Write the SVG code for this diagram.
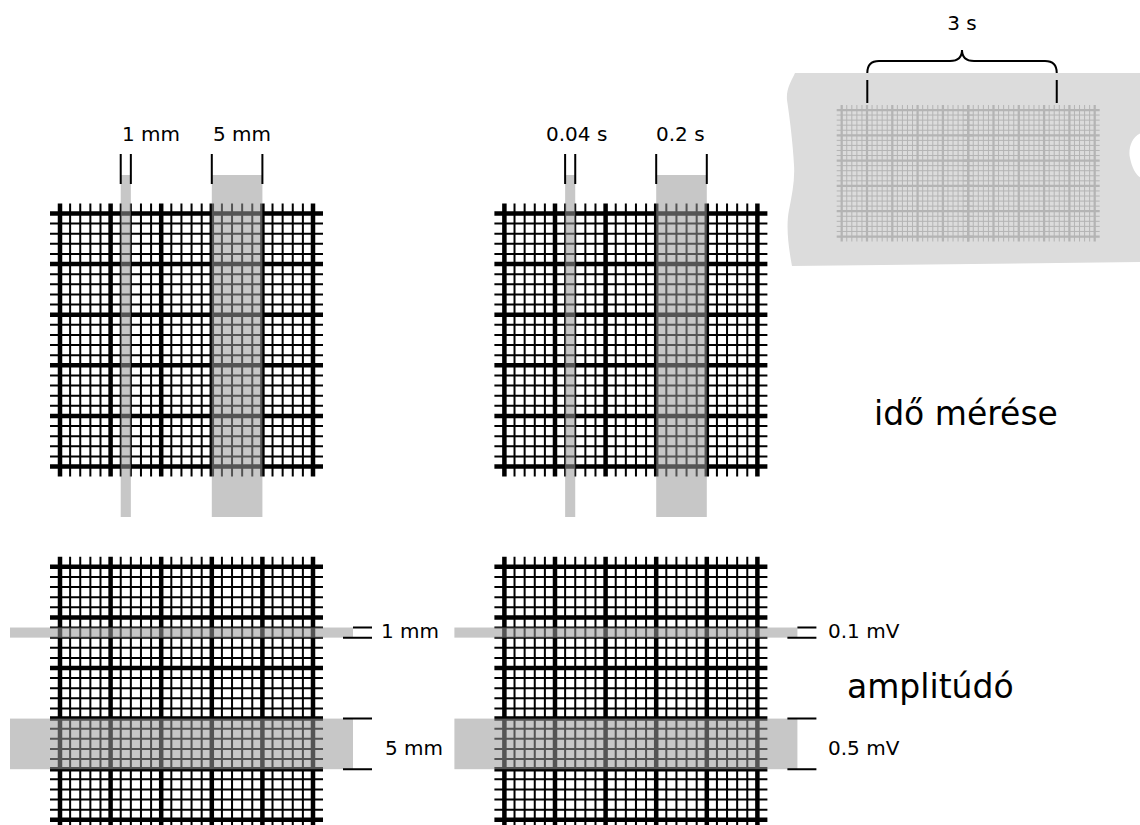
<svg xmlns="http://www.w3.org/2000/svg" xmlns:xlink="http://www.w3.org/1999/xlink" width="1140" height="825" viewBox="0 0 1140 825">
<style>
.thin{fill:none;stroke-width:2}
.thick{fill:none;stroke-width:4.5}
.band{fill:#999;fill-opacity:.55}
.tick{stroke:#000;stroke-width:2;fill:none}
.lbl{font-family:"DejaVu Sans",Verdana,sans-serif;font-size:20px;fill:#000}
.big{font-family:"DejaVu Sans",Verdana,sans-serif;font-size:33px;fill:#000}
</style>
<defs>
<g id="grid">
<path class="thin" d="M10.12-10V263M20.24-10V263M30.36-10V263M40.48-10V263M60.72-10V263M70.84-10V263M80.96-10V263M91.08-10V263M111.32-10V263M121.44-10V263M131.56-10V263M141.68-10V263M161.92-10V263M172.04-10V263M182.16-10V263M192.28-10V263M212.52-10V263M222.64-10V263M232.76-10V263M242.88-10V263M-10 10.12H263M-10 20.24H263M-10 30.36H263M-10 40.48H263M-10 60.72H263M-10 70.84H263M-10 80.96H263M-10 91.08H263M-10 111.32H263M-10 121.44H263M-10 131.56H263M-10 141.68H263M-10 161.92H263M-10 172.04H263M-10 182.16H263M-10 192.28H263M-10 212.52H263M-10 222.64H263M-10 232.76H263M-10 242.88H263"/>
<path class="thick" d="M0-10V263M50.6-10V263M101.2-10V263M151.8-10V263M202.4-10V263M253-10V263M-10 0H263M-10 50.6H263M-10 101.2H263M-10 151.8H263M-10 202.4H263M-10 253H263"/>
</g>
</defs>

<g id="inset">
<path fill="#dcdcdc" d="M795,73 L1141,73 L1141,133 C1131,137 1128,150 1130,158 C1132,168 1136,175 1141,178 L1141,262 L792,266 C788,245 786,225 789,210 C792,195 795,180 794,165 C793,145 790,120 787,100 C786,88 792,80 795,73 Z"/>
<use xlink:href="#grid" stroke="#b4b4b4" transform="translate(841.7,110) scale(0.5)"/>
<use xlink:href="#grid" stroke="#b4b4b4" transform="translate(968.2,110) scale(0.5)"/>
<text class="lbl" x="962" y="30" text-anchor="middle">3 s</text>
</g>

<g id="grid-time-mm">
<use xlink:href="#grid" stroke="#000" transform="translate(60,213.5)"/>
<rect class="band" x="120.72" y="175" width="10.12" height="342"/>
<rect class="band" x="211.8" y="175" width="50.6" height="342"/>
<text class="lbl" x="122" y="141">1 mm</text>
<text class="lbl" x="213" y="141">5 mm</text>
</g>

<g id="grid-time-s">
<use xlink:href="#grid" stroke="#000" transform="translate(504.4,213.5)"/>
<rect class="band" x="565.12" y="175" width="10.12" height="342"/>
<rect class="band" x="656.2" y="175" width="50.6" height="342"/>
<text class="lbl" x="546" y="141">0.04 s</text>
<text class="lbl" x="656" y="141">0.2 s</text>
</g>

<g id="grid-amp-mm">
<use xlink:href="#grid" stroke="#000" transform="translate(60,566.8)"/>
<rect class="band" x="10" y="627.52" width="343" height="10.12"/>
<rect class="band" x="10" y="718.6" width="343" height="50.6"/>
<text class="lbl" x="381" y="638">1 mm</text>
<text class="lbl" x="385" y="755">5 mm</text>
</g>

<g id="grid-amp-mv">
<use xlink:href="#grid" stroke="#000" transform="translate(504.4,566.8)"/>
<rect class="band" x="454.4" y="627.52" width="343" height="10.12"/>
<rect class="band" x="454.4" y="718.6" width="343" height="50.6"/>
<text class="lbl" x="828" y="638">0.1 mV</text>
<text class="lbl" x="828" y="755">0.5 mV</text>
</g>

<g id="title-time">
<text class="big" x="874" y="425">idő mérése</text>
</g>
<g id="title-amp">
<text class="big" x="847" y="698">amplitúdó</text>
</g>

<g id="connectors">
<path class="tick" d="M120.72,154V184M130.84,154V184M211.8,154V184M262.4,154V184"/>
<path class="tick" d="M565.12,154V184M575.24,154V184M656.2,154V184M706.8,154V184"/>
<path class="tick" d="M353,627.52H372M343,637.64H372M343,718.6H372M343,769.2H372"/>
<path class="tick" d="M797.4,627.52H816.4M787.4,637.64H816.4M787.4,718.6H816.4M787.4,769.2H816.4"/>
<path class="tick" d="M867.3,80V103M1056.75,80V103"/>
<path class="tick" d="M867.3,73 Q867.3,61 879,61 L950,61 Q962,61 962,50 Q962,61 974,61 L1045,61 Q1056.75,61 1056.75,73"/>
</g>
</svg>
